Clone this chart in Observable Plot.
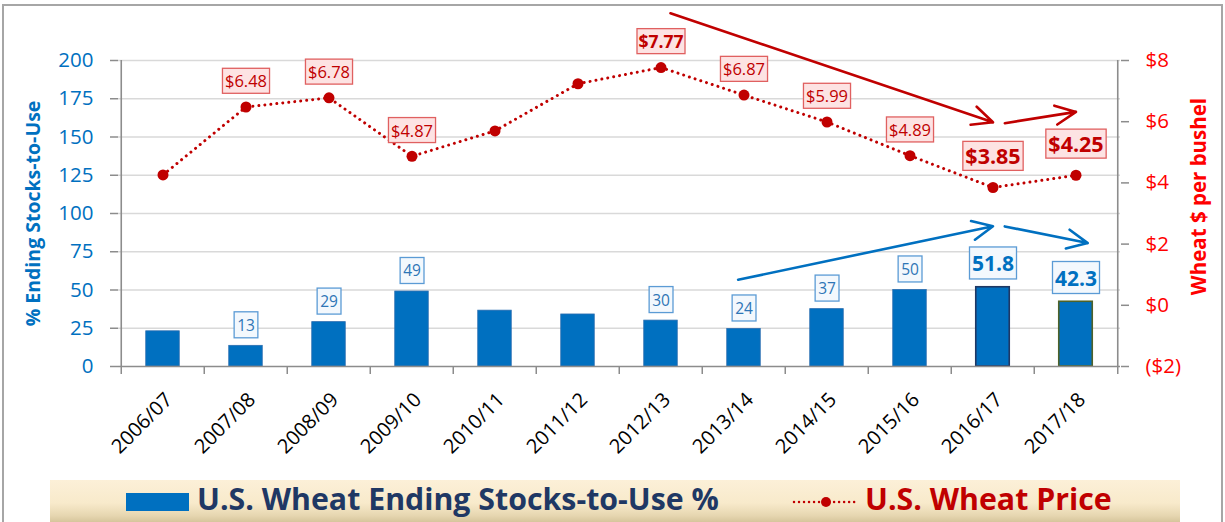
<!DOCTYPE html>
<html>
<head>
<meta charset="utf-8">
<script src="https://cdn.jsdelivr.net/npm/d3@7"></script>
<script src="https://cdn.jsdelivr.net/npm/@observablehq/plot@0.6"></script>
<style>
  body { margin: 0; background: #fff; font-family: "Open Sans", sans-serif; }
  #wrap { position: relative; width: 1225px; height: 522px; overflow: hidden; background: #fff; }
  #frame { position: absolute; left: 2px; top: 4px; width: 1221px; height: 560px; border: 2px solid #a6a6a6; box-sizing: border-box; }
  #chart { position: absolute; left: 0; top: 0; }
  #legend { position: absolute; left: 50px; top: 480px; width: 1130px; height: 42px;
    background: linear-gradient(#fcf0d8 0%, #f8eacb 55%, #e6d6b0 85%, #d6c59c 100%); }
  #legend .sw { position: absolute; left: 76px; top: 13px; width: 63px; height: 18px; background: #0070c0; }
  #legend .t { position: absolute; top: 2px; font-weight: 700; font-size: 30.3px; line-height: 34px; white-space: nowrap; }
  #legend .t1 { left: 147px; color: #1f3864; }
  #legend .t2 { left: 815px; color: #c00000; }
  #legend svg { position: absolute; left: 742px; top: 12px; }
</style>
</head>
<body>
<div id="wrap">
  <div id="frame"></div>
  <div id="chart"></div>
  <div id="legend">
    <div class="sw"></div>
    <div class="t t1">U.S. Wheat Ending Stocks-to-Use %</div>
    <svg width="66" height="20"><line x1="2" y1="10" x2="64" y2="10" stroke="#c00000" stroke-width="2.5" stroke-dasharray="0.01 5" stroke-linecap="round"/><circle cx="34" cy="10" r="5" fill="#c00000"/></svg>
    <div class="t t2">U.S. Wheat Price</div>
  </div>
</div>
<script>
// ---- data ----
const years = ["2006/07","2007/08","2008/09","2009/10","2010/11","2011/12","2012/13","2013/14","2014/15","2015/16","2016/17","2017/18"];
const stocksToUse = [23, 13.5, 29, 49, 36.5, 34, 30, 24.5, 37.5, 50, 51.8, 42.3];
const stockLabels = [null, "13", "29", "49", null, null, "30", "24", "37", "50", "51.8", "42.3"];
const wheatPrice = [4.26, 6.48, 6.78, 4.87, 5.70, 7.24, 7.77, 6.87, 5.99, 4.89, 3.85, 4.25];
const priceLabels = [null, "$6.48", "$6.78", "$4.87", null, null, "$7.77", "$6.87", "$5.99", "$4.89", "$3.85", "$4.25"];
const leftTicks = [0, 25, 50, 75, 100, 125, 150, 175, 200];
const rightTicks = [-2, 0, 2, 4, 6, 8];
const leftTitle = "% Ending Stocks-to-Use";
const rightTitle = "Wheat $ per bushel";
// trend arrows (price arrows in $/bu, stock arrows in %)
const priceArrows = [
  {from: "2012/13", to: "2016/17", start: 9.65, end: 5.98},
  {from: "2016/17", to: "2017/18", start: 5.89, end: 6.32}
];
const stockArrows = [
  {from: "2013/14", to: "2016/17", start: 57.5, end: 91.7},
  {from: "2016/17", to: "2017/18", start: 93.1, end: 82.2}
];

// ---- layout / style ----
const W = 1225, H = 480, mL = 118, mR = 105, mT = 60, mB = 114;
const half = (W - mL - mR) / years.length / 2;
const toY = p => (p + 2) * 20;              // right axis ($-2..$8) onto left axis (0..200)
const fmtPrice = p => p < 0 ? `($${-p})` : `$${p}`;
const emphasized = new Set(["2016/17", "2017/18"]);
const boldPrice = new Set(["2012/13"]);
const barStroke = {"2016/17": "#1f3864", "2017/18": "#4f6228"};

const data = years.map((year, i) => ({
  year, stock: stocksToUse[i], stockLabel: stockLabels[i], price: wheatPrice[i], priceLabel: priceLabels[i]
}));
const axisGray = "#8c8c8c";

const arrowMark = (a, color, opts) => Plot.arrow([a], {
  x1: "from", x2: "to", y1: d => opts.price ? toY(d.start) : d.start, y2: d => opts.price ? toY(d.end) : d.end,
  stroke: color, strokeWidth: 2.6, headLength: 13, headAngle: 50,
  insetStart: opts.insetStart || 0, insetEnd: opts.insetEnd || 0
});

const chart = Plot.plot({
  width: W, height: H, marginLeft: mL, marginRight: mR, marginTop: mT, marginBottom: mB,
  style: {fontFamily: "'Open Sans', sans-serif", fontSize: "19px", background: "transparent", overflow: "visible"},
  x: {type: "band", domain: years, padding: 0, label: null},
  y: {domain: [0, 200], label: null},
  marks: [
    Plot.gridY(leftTicks.slice(1), {stroke: "#d9d9d9", strokeOpacity: 1, strokeWidth: 1.3}),
    Plot.barY(data, {x: "year", y: "stock", fill: "#0070c0", insetLeft: 24.75, insetRight: 24.75,
      stroke: d => barStroke[d.year] || "#2a6db0", strokeWidth: d => barStroke[d.year] ? 1.6 : 0.8}),
    // axis lines
    Plot.ruleY([0], {stroke: axisGray, strokeWidth: 1.6}),
    Plot.ruleX([years[0]], {y1: 0, y2: 200, dx: -half, stroke: axisGray, strokeWidth: 1.6}),
    Plot.ruleX([years[years.length - 1]], {y1: 0, y2: 200, dx: half, stroke: axisGray, strokeWidth: 1.6}),
    // left axis
    Plot.axisY({anchor: "left", ticks: leftTicks, tickSize: 8, tickFormat: () => "", color: axisGray, strokeWidth: 1.5, label: null}),
    Plot.axisY({anchor: "left", ticks: leftTicks, tickSize: 0, tickPadding: 25, fontSize: 20.5, color: "#0070c0", label: null}),
    // right axis
    Plot.axisY({anchor: "right", ticks: rightTicks.map(toY), tickSize: 8, tickFormat: () => "", color: axisGray, strokeWidth: 1.5, label: null}),
    Plot.axisY({anchor: "right", ticks: rightTicks.map(toY), tickSize: 0, tickPadding: 25, fontSize: 20.5,
      tickFormat: v => fmtPrice(Math.round(v / 20 - 2)), color: "#ff0000", label: null}),
    // bottom axis: ticks at band boundaries, rotated labels
    Plot.axisX({anchor: "bottom", tickSize: 8, tickFormat: () => "", dx: -half, color: axisGray, strokeWidth: 1.5, label: null}),
    Plot.axisX({anchor: "bottom", ticks: [years[years.length - 1]], tickSize: 8, tickFormat: () => "", dx: half, color: axisGray, strokeWidth: 1.5, label: null}),
    Plot.axisX({anchor: "bottom", tickSize: 0, tickPadding: 30, tickRotate: -45, fontSize: 20, color: "#000", dx: 6, label: null}),
    // axis titles
    Plot.text([leftTitle], {text: d => d, frameAnchor: "left", textAnchor: "middle", dx: -85, rotate: -90, fill: "#0070c0", fontSize: 19.5, fontWeight: 700}),
    Plot.text([rightTitle], {text: d => d, frameAnchor: "right", textAnchor: "middle", dx: 79, dy: -17, rotate: -90, fill: "#ff0000", fontSize: 20.5, fontWeight: 700}),
    // price line
    Plot.line(data, {x: "year", y: d => toY(d.price), stroke: "#c00000", strokeWidth: 3, strokeDasharray: "0.01 6", strokeLinecap: "round"}),
    Plot.dot(data, {x: "year", y: d => toY(d.price), r: 5.5, fill: "#c00000", stroke: "none"}),
    // trend arrows
    arrowMark(priceArrows[0], "#c00000", {price: true, insetStart: 10}),
    arrowMark(priceArrows[1], "#c00000", {price: true, insetStart: 12}),
    arrowMark(stockArrows[0], "#0070c0", {price: false, insetStart: -6}),
    arrowMark(stockArrows[1], "#0070c0", {price: false, insetStart: 12, insetEnd: -12}),
    // bar labels
    Plot.text(data.filter(d => d.stockLabel && !emphasized.has(d.year)), {x: "year", y: "stock", text: "stockLabel", dy: -20,
      fill: "#2e75b6", fontSize: 15.5, ariaDescription: "box-stock"}),
    Plot.text(data.filter(d => d.stockLabel && emphasized.has(d.year)), {x: "year", y: "stock", text: "stockLabel", dy: -23,
      fill: "#0070c0", fontSize: 21, fontWeight: 700, ariaDescription: "box-stock-big"}),
    // price labels
    Plot.text(data.filter(d => d.priceLabel && !emphasized.has(d.year) && !boldPrice.has(d.year)), {x: "year", y: d => toY(d.price), text: "priceLabel", dy: -25,
      fill: "#c00000", fontSize: 16.5, ariaDescription: "box-price"}),
    Plot.text(data.filter(d => boldPrice.has(d.year)), {x: "year", y: d => toY(d.price), text: "priceLabel", dy: -25,
      fill: "#c00000", fontSize: 17.5, fontWeight: 700, ariaDescription: "box-price-mid"}),
    Plot.text(data.filter(d => d.priceLabel && emphasized.has(d.year)), {x: "year", y: d => toY(d.price), text: "priceLabel", dy: -30,
      fill: "#c00000", fontSize: 21.5, fontWeight: 700, ariaDescription: "box-price-big"})
  ]
});
document.getElementById("chart").appendChild(chart);

// draw framed boxes behind the data labels
function boxify(desc, {fill, stroke, padX, height}) {
  chart.querySelectorAll(`g[aria-description="${desc}"] text`).forEach(t => {
    const b = t.getBBox();
    const r = document.createElementNS("http://www.w3.org/2000/svg", "rect");
    r.setAttribute("x", b.x - padX);
    r.setAttribute("y", b.y + b.height / 2 - height / 2);
    r.setAttribute("width", b.width + 2 * padX);
    r.setAttribute("height", height);
    r.setAttribute("fill", fill);
    r.setAttribute("stroke", stroke);
    r.setAttribute("stroke-width", 1.3);
    const tr = t.getAttribute("transform");
    if (tr) r.setAttribute("transform", tr);
    t.parentNode.insertBefore(r, t);
  });
}
boxify("box-stock", {fill: "#f3f8fd", stroke: "#5b9bd5", padX: 3, height: 26});
boxify("box-stock-big", {fill: "#f3f8fd", stroke: "#5b9bd5", padX: 2.5, height: 32});
boxify("box-price", {fill: "#fde3e3", stroke: "#e06060", padX: 2.5, height: 25});
boxify("box-price-mid", {fill: "#fde3e3", stroke: "#e06060", padX: 1.5, height: 25});
boxify("box-price-big", {fill: "#fde3e3", stroke: "#e06060", padX: 2.5, height: 29});
</script>
</body>
</html>
